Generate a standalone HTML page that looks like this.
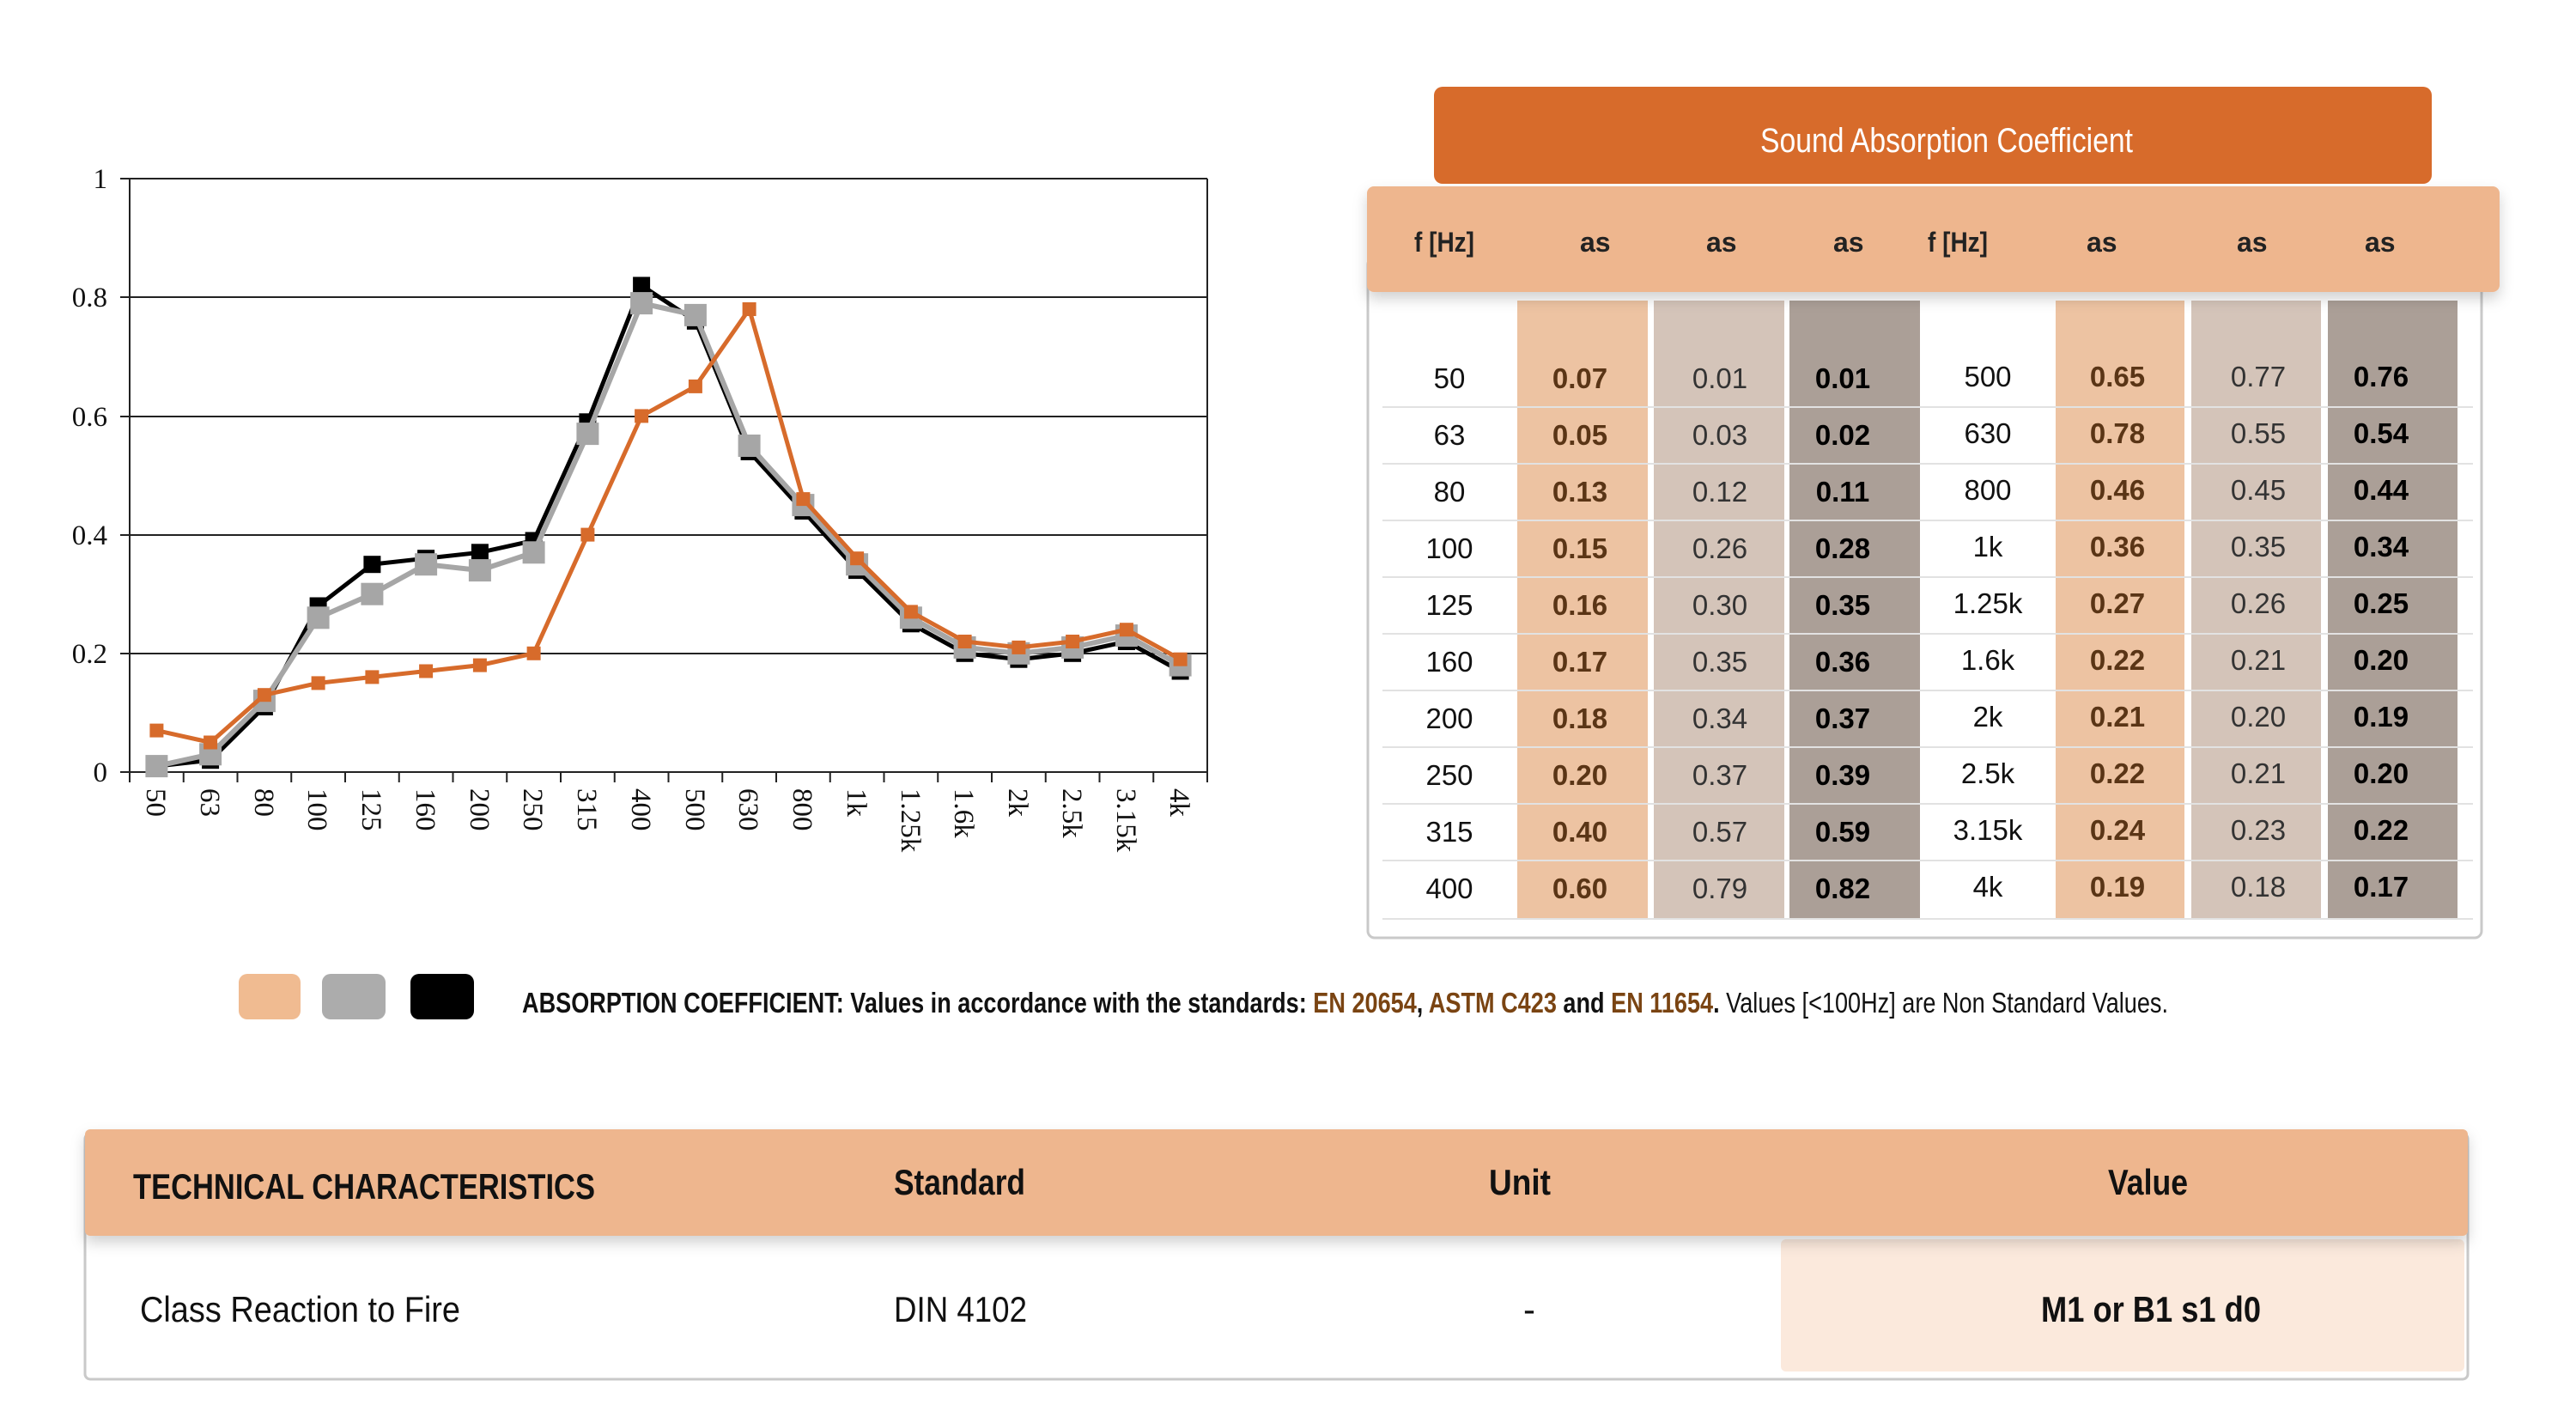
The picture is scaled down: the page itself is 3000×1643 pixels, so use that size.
<!DOCTYPE html>
<html><head><meta charset="utf-8"><style>
html,body{margin:0;padding:0;background:#fff;}
svg{display:block}
.n{font-family:"Liberation Sans Narrow","Liberation Sans",sans-serif;}
.s{font-family:"Liberation Serif",serif;font-size:33px;fill:#111}
</style></head><body>
<svg width="3000" height="1643" viewBox="0 0 3000 1643" xmlns="http://www.w3.org/2000/svg">
<defs>
<marker id="mo" markerUnits="userSpaceOnUse" markerWidth="18" markerHeight="18" refX="9" refY="9"><rect x="1" y="1" width="16" height="16" fill="#d76b2b"/></marker>
<marker id="mg" markerUnits="userSpaceOnUse" markerWidth="28" markerHeight="28" refX="14" refY="14"><rect x="1" y="1" width="26" height="26" fill="#a6a6a6"/></marker>
<marker id="mb" markerUnits="userSpaceOnUse" markerWidth="22" markerHeight="22" refX="11" refY="11"><rect x="1" y="1" width="20" height="20" fill="#000"/></marker>
<filter id="sh" x="-5%" y="-20%" width="110%" height="160%"><feDropShadow dx="0" dy="8" stdDeviation="8" flood-color="#000" flood-opacity="0.18"/></filter>
</defs>

<g stroke="#222" stroke-width="2">
<line x1="151" y1="208" x2="1406" y2="208"/>
<line x1="151" y1="346" x2="1406" y2="346"/>
<line x1="151" y1="485" x2="1406" y2="485"/>
<line x1="151" y1="623" x2="1406" y2="623"/>
<line x1="151" y1="761" x2="1406" y2="761"/>
<line x1="151" y1="899" x2="1406" y2="899"/>
<line x1="151" y1="208" x2="151" y2="899"/>
<line x1="1406" y1="208" x2="1406" y2="899"/>
<line x1="140" y1="208" x2="151" y2="208"/><line x1="140" y1="346" x2="151" y2="346"/><line x1="140" y1="485" x2="151" y2="485"/><line x1="140" y1="623" x2="151" y2="623"/><line x1="140" y1="761" x2="151" y2="761"/><line x1="140" y1="899" x2="151" y2="899"/>
<path d="M151 899v12M213.75 899v12M276.5 899v12M339.25 899v12M402 899v12M464.75 899v12M527.5 899v12M590.25 899v12M653 899v12M715.75 899v12M778.5 899v12M841.25 899v12M904 899v12M966.75 899v12M1029.5 899v12M1092.25 899v12M1155 899v12M1217.75 899v12M1280.5 899v12M1343.25 899v12M1406 899v12"/>
</g>
<g class="s" text-anchor="end">
<text x="125" y="219">1</text><text x="125" y="357">0.8</text><text x="125" y="496">0.6</text><text x="125" y="634">0.4</text><text x="125" y="772">0.2</text><text x="125" y="910">0</text>
</g>
<g class="s">
<text transform="translate(171,918) rotate(90)">50</text>
<text transform="translate(234,918) rotate(90)">63</text>
<text transform="translate(297,918) rotate(90)">80</text>
<text transform="translate(359,918) rotate(90)">100</text>
<text transform="translate(422,918) rotate(90)">125</text>
<text transform="translate(485,918) rotate(90)">160</text>
<text transform="translate(548,918) rotate(90)">200</text>
<text transform="translate(610,918) rotate(90)">250</text>
<text transform="translate(673,918) rotate(90)">315</text>
<text transform="translate(736,918) rotate(90)">400</text>
<text transform="translate(799,918) rotate(90)">500</text>
<text transform="translate(861,918) rotate(90)">630</text>
<text transform="translate(924,918) rotate(90)">800</text>
<text transform="translate(987,918) rotate(90)">1k</text>
<text transform="translate(1050,918) rotate(90)">1.25k</text>
<text transform="translate(1112,918) rotate(90)">1.6k</text>
<text transform="translate(1175,918) rotate(90)">2k</text>
<text transform="translate(1238,918) rotate(90)">2.5k</text>
<text transform="translate(1301,918) rotate(90)">3.15k</text>
<text transform="translate(1363,918) rotate(90)">4k</text>
</g>
<polyline fill="none" stroke="#000" stroke-width="5" marker-start="url(#mb)" marker-mid="url(#mb)" marker-end="url(#mb)" points="182.4,892.1 245.1,885.2 307.9,823 370.6,705.5 433.4,657.2 496.1,650.2 558.9,643.3 621.6,629.5 684.4,491.3 747.1,332.4 809.9,373.8 872.6,525.9 935.4,595 998.1,664.1 1060.9,726.3 1123.6,760.8 1186.4,767.7 1249.1,760.8 1311.9,747 1374.6,781.5"/>
<polyline fill="none" stroke="#a6a6a6" stroke-width="6" marker-start="url(#mg)" marker-mid="url(#mg)" marker-end="url(#mg)" points="182.4,892.1 245.1,878.3 307.9,816.1 370.6,719.3 433.4,691.7 496.1,657.2 558.9,664.1 621.6,643.3 684.4,505.1 747.1,353.1 809.9,366.9 872.6,519 935.4,588.1 998.1,657.2 1060.9,719.3 1123.6,753.9 1186.4,760.8 1249.1,753.9 1311.9,740.1 1374.6,774.6"/>
<polyline fill="none" stroke="#d76b2b" stroke-width="5" marker-start="url(#mo)" marker-mid="url(#mo)" marker-end="url(#mo)" points="182.4,850.6 245.1,864.5 307.9,809.2 370.6,795.4 433.4,788.4 496.1,781.5 558.9,774.6 621.6,760.8 684.4,622.6 747.1,484.4 809.9,449.9 872.6,360 935.4,581.1 998.1,650.2 1060.9,712.4 1123.6,747 1186.4,753.9 1249.1,747 1311.9,733.2 1374.6,767.7"/>

<rect x="1593" y="300" width="1297" height="792" rx="8" fill="#fff" stroke="#c9c9c9" stroke-width="3"/>
<rect x="1767" y="350" width="152" height="720" fill="#edc3a2"/>
<rect x="1926" y="350" width="152" height="720" fill="#d4c4b9"/>
<rect x="2084" y="350" width="152" height="720" fill="#ab9f97"/>
<rect x="2394" y="350" width="150" height="720" fill="#edc3a2"/>
<rect x="2552" y="350" width="151" height="720" fill="#d4c4b9"/>
<rect x="2711" y="350" width="151" height="720" fill="#ab9f97"/>
<g stroke="#e2e2e2" stroke-width="2">
<line x1="1610" y1="474" x2="2880" y2="474"/><line x1="1610" y1="540" x2="2880" y2="540"/><line x1="1610" y1="606" x2="2880" y2="606"/><line x1="1610" y1="672" x2="2880" y2="672"/><line x1="1610" y1="738" x2="2880" y2="738"/><line x1="1610" y1="804" x2="2880" y2="804"/><line x1="1610" y1="870" x2="2880" y2="870"/><line x1="1610" y1="936" x2="2880" y2="936"/><line x1="1610" y1="1002" x2="2880" y2="1002"/><line x1="1610" y1="1070" x2="2880" y2="1070"/>
</g>
<rect x="1592" y="217" width="1319" height="123" rx="8" fill="#eeb68e" filter="url(#sh)"/>
<rect x="1670" y="101" width="1162" height="113" rx="10" fill="#d76b2b"/>
<text class="n" x="2050" y="177" font-size="40" fill="#fff" textLength="434" lengthAdjust="spacingAndGlyphs">Sound Absorption Coefficient</text>
<g class="n" font-size="32" font-weight="bold" fill="#222">
<text x="1647" y="293" textLength="70" lengthAdjust="spacingAndGlyphs">f [Hz]</text><text x="1840" y="293">as</text><text x="1987" y="293">as</text><text x="2135" y="293">as</text>
<text x="2245" y="293" textLength="70" lengthAdjust="spacingAndGlyphs">f [Hz]</text><text x="2430" y="293">as</text><text x="2605" y="293">as</text><text x="2754" y="293">as</text>
</g>
<g class="n" font-size="33" text-anchor="middle">
<g fill="#111">
<text x="1688" y="452">50</text><text x="1688" y="518">63</text><text x="1688" y="584">80</text><text x="1688" y="650">100</text><text x="1688" y="716">125</text><text x="1688" y="782">160</text><text x="1688" y="848">200</text><text x="1688" y="914">250</text><text x="1688" y="980">315</text><text x="1688" y="1046">400</text>
<text x="2315" y="450">500</text><text x="2315" y="516">630</text><text x="2315" y="582">800</text><text x="2315" y="648">1k</text><text x="2315" y="714">1.25k</text><text x="2315" y="780">1.6k</text><text x="2315" y="846">2k</text><text x="2315" y="912">2.5k</text><text x="2315" y="978">3.15k</text><text x="2315" y="1044">4k</text>
</g>
<g fill="#5a3516" font-weight="bold">
<text x="1840" y="452">0.07</text><text x="1840" y="518">0.05</text><text x="1840" y="584">0.13</text><text x="1840" y="650">0.15</text><text x="1840" y="716">0.16</text><text x="1840" y="782">0.17</text><text x="1840" y="848">0.18</text><text x="1840" y="914">0.20</text><text x="1840" y="980">0.40</text><text x="1840" y="1046">0.60</text>
<text x="2466" y="450">0.65</text><text x="2466" y="516">0.78</text><text x="2466" y="582">0.46</text><text x="2466" y="648">0.36</text><text x="2466" y="714">0.27</text><text x="2466" y="780">0.22</text><text x="2466" y="846">0.21</text><text x="2466" y="912">0.22</text><text x="2466" y="978">0.24</text><text x="2466" y="1044">0.19</text>
</g>
<g fill="#333">
<text x="2003" y="452">0.01</text><text x="2003" y="518">0.03</text><text x="2003" y="584">0.12</text><text x="2003" y="650">0.26</text><text x="2003" y="716">0.30</text><text x="2003" y="782">0.35</text><text x="2003" y="848">0.34</text><text x="2003" y="914">0.37</text><text x="2003" y="980">0.57</text><text x="2003" y="1046">0.79</text>
<text x="2630" y="450">0.77</text><text x="2630" y="516">0.55</text><text x="2630" y="582">0.45</text><text x="2630" y="648">0.35</text><text x="2630" y="714">0.26</text><text x="2630" y="780">0.21</text><text x="2630" y="846">0.20</text><text x="2630" y="912">0.21</text><text x="2630" y="978">0.23</text><text x="2630" y="1044">0.18</text>
</g>
<g fill="#000" font-weight="bold">
<text x="2146" y="452">0.01</text><text x="2146" y="518">0.02</text><text x="2146" y="584">0.11</text><text x="2146" y="650">0.28</text><text x="2146" y="716">0.35</text><text x="2146" y="782">0.36</text><text x="2146" y="848">0.37</text><text x="2146" y="914">0.39</text><text x="2146" y="980">0.59</text><text x="2146" y="1046">0.82</text>
<text x="2773" y="450">0.76</text><text x="2773" y="516">0.54</text><text x="2773" y="582">0.44</text><text x="2773" y="648">0.34</text><text x="2773" y="714">0.25</text><text x="2773" y="780">0.20</text><text x="2773" y="846">0.19</text><text x="2773" y="912">0.20</text><text x="2773" y="978">0.22</text><text x="2773" y="1044">0.17</text>
</g>
</g>

<rect x="278" y="1134" width="72" height="53" rx="10" fill="#f0bb91"/>
<rect x="375" y="1134" width="74" height="53" rx="10" fill="#acacac"/>
<rect x="478" y="1134" width="74" height="53" rx="10" fill="#000"/>
<text class="n" x="608" y="1179" font-size="33" fill="#111" textLength="1917" lengthAdjust="spacingAndGlyphs"><tspan font-weight="bold">ABSORPTION COEFFICIENT: Values in accordance with the standards: </tspan><tspan font-weight="bold" fill="#7a4412">EN 20654</tspan><tspan font-weight="bold">, </tspan><tspan font-weight="bold" fill="#7a4412">ASTM C423</tspan><tspan font-weight="bold"> and </tspan><tspan font-weight="bold" fill="#7a4412">EN 11654</tspan><tspan font-weight="bold">.</tspan>  Values [&lt;100Hz] are Non Standard Values.</text>

<rect x="99" y="1320" width="2775" height="286" rx="6" fill="#fff" stroke="#c9c9c9" stroke-width="3"/>
<rect x="2074" y="1443" width="796" height="154" rx="6" fill="#fbe9dc"/>
<rect x="99" y="1315" width="2775" height="124" rx="6" fill="#eeb68e" filter="url(#sh)"/>
<g class="n" font-weight="bold" fill="#111" font-size="42">
<text x="155" y="1396" textLength="538" lengthAdjust="spacingAndGlyphs">TECHNICAL CHARACTERISTICS</text>
<text x="1041" y="1391" textLength="153" lengthAdjust="spacingAndGlyphs">Standard</text>
<text x="1734" y="1391" textLength="72" lengthAdjust="spacingAndGlyphs">Unit</text>
<text x="2455" y="1391" textLength="93" lengthAdjust="spacingAndGlyphs">Value</text>
</g>
<g class="n" fill="#111" font-size="42">
<text x="163" y="1539" textLength="373" lengthAdjust="spacingAndGlyphs">Class Reaction to Fire</text>
<text x="1041" y="1539" textLength="155" lengthAdjust="spacingAndGlyphs">DIN 4102</text>
<text x="1781" y="1539" text-anchor="middle">-</text>
<text x="2377" y="1539" font-weight="bold" textLength="256" lengthAdjust="spacingAndGlyphs">M1 or B1 s1 d0</text>
</g>
</svg>
</body></html>
